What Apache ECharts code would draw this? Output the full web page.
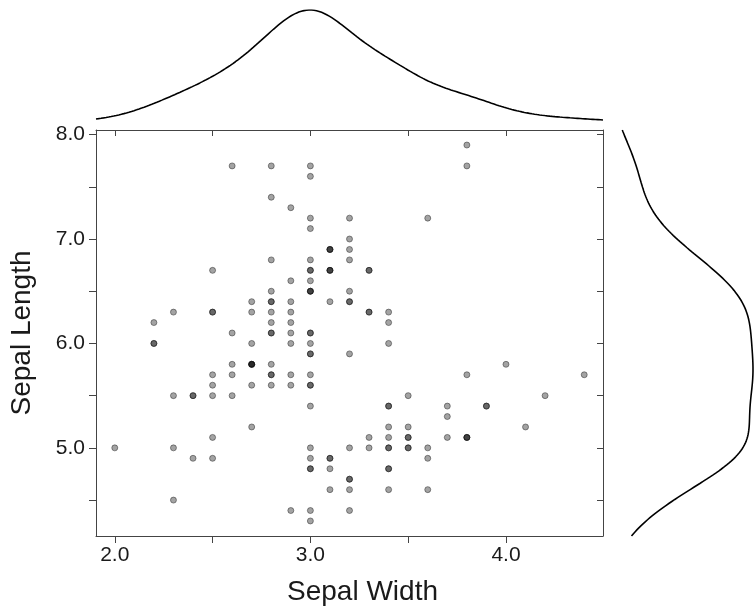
<!DOCTYPE html>
<html>
<head>
<meta charset="utf-8">
<script src="https://cdn.jsdelivr.net/npm/echarts@6/dist/echarts.min.js"></script>
<style>
  html, body { margin: 0; padding: 0; background: #fff; }
  #chart { width: 755px; height: 606px; }
</style>
</head>
<body>
<div id="chart"></div>
<script>
// Iris measurements (cm): sepal width and sepal length, one entry per flower.
const sepalWidth = [
  3.5,3.0,3.2,3.1,3.6,3.9,3.4,3.4,2.9,3.1,3.7,3.4,3.0,3.0,4.0,4.4,3.9,3.5,3.8,3.8,
  3.4,3.7,3.6,3.3,3.4,3.0,3.4,3.5,3.4,3.2,3.1,3.4,4.1,4.2,3.1,3.2,3.5,3.6,3.0,3.4,
  3.5,2.3,3.2,3.5,3.8,3.0,3.8,3.2,3.7,3.3,
  3.2,3.2,3.1,2.3,2.8,2.8,3.3,2.4,2.9,2.7,2.0,3.0,2.2,2.9,2.9,3.1,3.0,2.7,2.2,2.5,
  3.2,2.8,2.5,2.8,2.9,3.0,2.8,3.0,2.9,2.6,2.4,2.4,2.7,2.7,3.0,3.4,3.1,2.3,3.0,2.5,
  2.6,3.0,2.6,2.3,2.7,3.0,2.9,2.9,2.5,2.8,
  3.3,2.7,3.0,2.9,3.0,3.0,2.5,2.9,2.5,3.6,3.2,2.7,3.0,2.5,2.8,3.2,3.0,3.8,2.6,2.2,
  3.2,2.8,2.8,2.7,3.3,3.2,2.8,3.0,2.8,3.0,2.8,3.8,2.8,2.8,2.6,3.0,3.4,3.1,3.0,3.1,
  3.1,3.1,2.7,3.2,3.3,3.0,2.5,3.0,3.4,3.0
];
const sepalLength = [
  5.1,4.9,4.7,4.6,5.0,5.4,4.6,5.0,4.4,4.9,5.4,4.8,4.8,4.3,5.8,5.7,5.4,5.1,5.7,5.1,
  5.4,5.1,4.6,5.1,4.8,5.0,5.0,5.2,5.2,4.7,4.8,5.4,5.2,5.5,4.9,5.0,5.5,4.9,4.4,5.1,
  5.0,4.5,4.4,5.0,5.1,4.8,5.1,4.6,5.3,5.0,
  7.0,6.4,6.9,5.5,6.5,5.7,6.3,4.9,6.6,5.2,5.0,5.9,6.0,6.1,5.6,6.7,5.6,5.8,6.2,5.6,
  5.9,6.1,6.3,6.1,6.4,6.6,6.8,6.7,6.0,5.7,5.5,5.5,5.8,6.0,5.4,6.0,6.7,6.3,5.6,5.5,
  5.5,6.1,5.8,5.0,5.6,5.7,5.7,6.2,5.1,5.7,
  6.3,5.8,7.1,6.3,6.5,7.6,4.9,7.3,6.7,7.2,6.5,6.4,6.8,5.7,5.8,6.4,6.5,7.7,7.7,6.0,
  6.9,5.6,7.7,6.3,6.7,7.2,6.2,6.1,6.4,7.2,7.4,7.9,6.4,6.3,6.1,7.7,6.3,6.4,6.0,6.9,
  6.7,6.9,5.8,6.8,6.7,6.7,6.3,6.5,6.2,5.9
];

// Tick positions and labels
const xTicks = [2.0, 2.5, 3.0, 3.5, 4.0];
const xLabels = [2.0, 3.0, 4.0];
const yTicks = [4.5, 5.0, 5.5, 6.0, 6.5, 7.0, 7.5, 8.0];
const yLabels = [5.0, 6.0, 7.0, 8.0];

// Axis extents: data range padded by 4% on each side
function paddedRange(vals) {
  const lo = Math.min(...vals), hi = Math.max(...vals);
  const pad = (hi - lo) * 0.04;
  return [lo - pad, hi + pad];
}
const [xMin, xMax] = paddedRange(sepalWidth);
const [yMin, yMax] = paddedRange(sepalLength);

// Gaussian kernel density estimate (Scott's rule bandwidth)
function kde(vals, lo, hi, steps) {
  const n = vals.length;
  const mean = vals.reduce((a, b) => a + b, 0) / n;
  const sd = Math.sqrt(vals.reduce((a, b) => a + (b - mean) ** 2, 0) / (n - 1));
  const bw = sd * Math.pow(n, -0.2);
  const norm = 1 / (n * bw * Math.sqrt(2 * Math.PI));
  const out = [];
  for (let i = 0; i <= steps; i++) {
    const x = lo + (hi - lo) * i / steps;
    let s = 0;
    for (const v of vals) { const z = (x - v) / bw; s += Math.exp(-0.5 * z * z); }
    out.push([x, s * norm]);
  }
  return out;
}
const widthDensity = kde(sepalWidth, xMin, xMax, 200);
const lengthDensity = kde(sepalLength, yMin, yMax, 200).map(p => [p[1], p[0]]);

const points = sepalWidth.map((w, i) => [w, sepalLength[i]]);

const FONT = 'Liberation Sans, Arial, sans-serif';
const lineStyle = { color: '#444', width: 1 };
const fmt = v => v.toFixed(1);

const chart = echarts.init(document.getElementById('chart'), null, { renderer: 'canvas' });
chart.setOption({
  animation: false,
  backgroundColor: '#fff',
  grid: [
    { left: 96, top: 130, width: 507, height: 406, outerBoundsMode: 'none', containLabel: false },  // scatter panel
    { left: 96, top: 10, width: 507, height: 112, outerBoundsMode: 'none', containLabel: false },   // top density
    { left: 611, top: 130, width: 142, height: 406, outerBoundsMode: 'none', containLabel: false }  // right density
  ],
  xAxis: [
    {
      gridIndex: 0, type: 'value', min: xMin, max: xMax, position: 'bottom',
      name: 'Sepal Width', nameLocation: 'middle', nameGap: 42,
      nameTextStyle: { fontFamily: FONT, fontSize: 28, color: '#1a1a1a', padding: [0, 0, 0, 26] },
      axisLine: { show: true, onZero: false, lineStyle },
      axisTick: { show: true, inside: false, length: 7, customValues: xTicks, lineStyle },
      axisLabel: { show: true, customValues: xLabels, formatter: fmt, margin: 9,
                   fontFamily: FONT, fontSize: 21, color: '#1a1a1a' },
      splitLine: { show: false }
    },
    {
      gridIndex: 0, type: 'value', min: xMin, max: xMax, position: 'top',
      axisLine: { show: true, onZero: false, lineStyle },
      axisTick: { show: true, inside: true, length: 6, customValues: xTicks, lineStyle },
      axisLabel: { show: false },
      splitLine: { show: false }
    },
    {
      gridIndex: 1, type: 'value', min: xMin, max: xMax,
      show: false
    },
    {
      gridIndex: 2, type: 'value', min: 0, max: 'dataMax',
      show: false
    }
  ],
  yAxis: [
    {
      gridIndex: 0, type: 'value', min: yMin, max: yMax, position: 'left',
      name: 'Sepal Length', nameLocation: 'middle', nameGap: 60,
      nameTextStyle: { fontFamily: FONT, fontSize: 28, color: '#1a1a1a' },
      axisLine: { show: true, onZero: false, lineStyle },
      axisTick: { show: true, inside: false, length: 7, customValues: yTicks, lineStyle },
      axisLabel: { show: true, customValues: yLabels, formatter: fmt, margin: 11,
                   fontFamily: FONT, fontSize: 21, color: '#1a1a1a' },
      splitLine: { show: false }
    },
    {
      gridIndex: 0, type: 'value', min: yMin, max: yMax, position: 'right',
      axisLine: { show: true, onZero: false, lineStyle },
      axisTick: { show: true, inside: true, length: 6, customValues: yTicks, lineStyle },
      axisLabel: { show: false },
      splitLine: { show: false }
    },
    {
      gridIndex: 1, type: 'value', min: 0, max: 'dataMax',
      show: false
    },
    {
      gridIndex: 2, type: 'value', min: yMin, max: yMax,
      show: false
    }
  ],
  series: [
    {
      type: 'scatter', xAxisIndex: 0, yAxisIndex: 0,
      data: points, symbol: 'circle', symbolSize: 6,
      itemStyle: { color: 'rgba(0,0,0,0.45)', borderColor: 'rgba(20,20,20,0.7)', borderWidth: 0.8 }
    },
    {
      type: 'line', xAxisIndex: 2, yAxisIndex: 2,
      data: widthDensity, showSymbol: false, smooth: false,
      lineStyle: { color: '#000', width: 1.6 }
    },
    {
      type: 'line', xAxisIndex: 3, yAxisIndex: 3,
      data: lengthDensity, showSymbol: false, smooth: false,
      lineStyle: { color: '#000', width: 1.6 }
    }
  ]
});
</script>
</body>
</html>
